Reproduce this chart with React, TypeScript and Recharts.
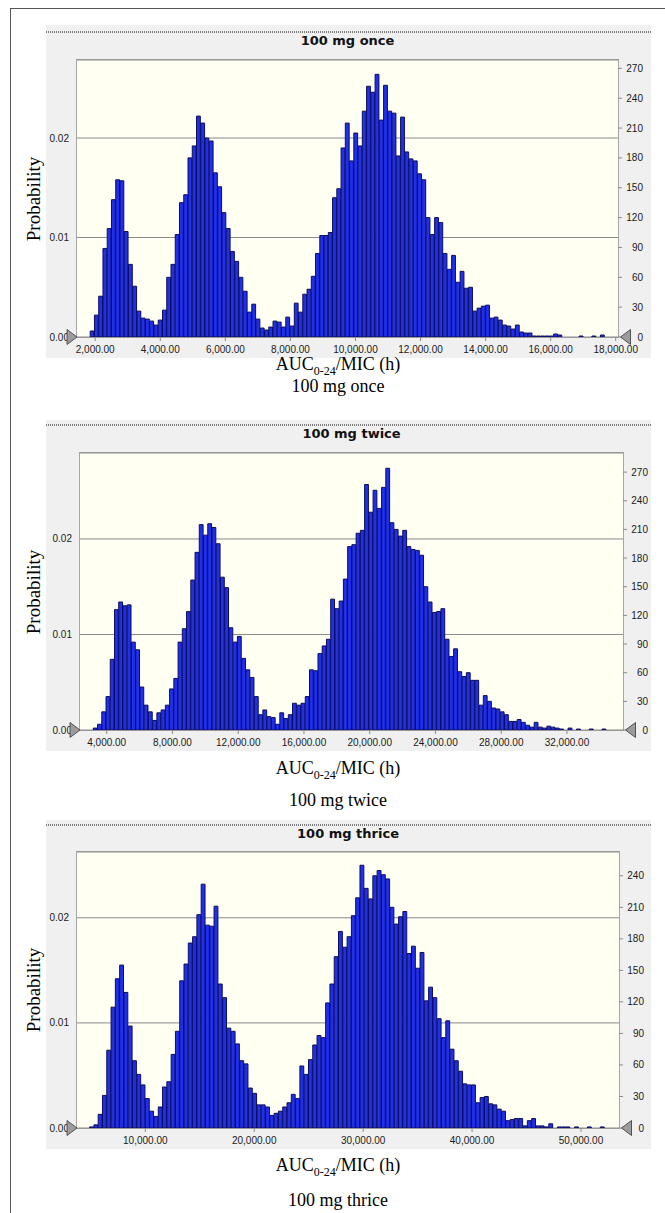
import React from 'react';
import { BarChart, Bar, XAxis, YAxis, CartesianGrid } from 'recharts';

// Bin counts (10,000 trials each)
const onceCounts = [
  6, 22, 41, 89, 109, 138, 158, 157, 106, 73,
  51, 26, 19, 18, 16, 12, 17, 27, 60, 73,
  103, 135, 143, 180, 192, 222, 215, 200, 197, 165,
  151, 125, 109, 86, 76, 60, 46, 25, 33, 18,
  9, 7, 10, 16, 15, 10, 20, 11, 34, 25,
  43, 48, 61, 84, 102, 102, 105, 140, 149, 190,
  215, 177, 205, 192, 227, 252, 246, 264, 218, 253,
  227, 225, 182, 221, 186, 179, 177, 164, 158, 120,
  103, 120, 115, 84, 68, 82, 55, 66, 49, 50,
  26, 29, 31, 32, 19, 20, 17, 12, 11, 8,
  12, 5, 4, 4, 1, 1, 1, 1, 1, 3,
  2, 0, 0, 0, 0, 1, 0, 0, 1, 0,
  2,
];

const twiceCounts = [
  2, 6, 19, 35, 74, 126, 134, 130, 131, 92,
  84, 45, 26, 19, 10, 18, 21, 26, 43, 54,
  92, 106, 124, 157, 186, 215, 204, 216, 212, 195,
  160, 149, 107, 92, 98, 75, 63, 55, 35, 16,
  21, 14, 13, 6, 18, 12, 16, 28, 26, 28,
  35, 63, 62, 80, 88, 95, 137, 127, 135, 158,
  192, 194, 206, 209, 257, 228, 251, 232, 254, 274,
  217, 210, 203, 209, 192, 189, 188, 183, 150, 134,
  123, 124, 127, 95, 77, 85, 61, 56, 60, 52,
  52, 26, 36, 30, 23, 22, 19, 16, 9, 9,
  11, 8, 5, 3, 8, 3, 2, 4, 3, 2,
  1, 0, 2, 0, 1, 0, 0, 1, 0, 0,
  1,
];

const thriceCounts = [
  1, 3, 13, 31, 74, 115, 142, 155, 129, 97,
  64, 51, 41, 28, 16, 11, 20, 39, 44, 70,
  92, 140, 156, 176, 182, 203, 232, 193, 192, 211,
  137, 124, 95, 92, 80, 64, 61, 38, 33, 22,
  22, 20, 12, 14, 16, 20, 24, 32, 28, 59,
  51, 65, 79, 88, 86, 119, 137, 163, 187, 172,
  182, 202, 219, 250, 228, 218, 240, 245, 241, 237,
  210, 194, 201, 206, 166, 173, 152, 167, 121, 134,
  124, 104, 86, 102, 75, 64, 54, 42, 41, 41,
  24, 29, 30, 23, 22, 18, 16, 7, 8, 9,
  9, 2, 7, 9, 2, 2, 1, 4, 0, 1,
  1, 1, 0, 1, 0, 0, 1, 0, 0, 1,
];

// first bin edge and bin width (AUC/MIC units)
const onceBins = { start: 1846, width: 130.7 };
const twiceBins = { start: 3184, width: 257.9 };
const thriceBins = { start: 4886, width: 394 };

const onceDomain = [1440, 18070];
const twiceDomain = [2375, 35409];
const thriceDomain = [3729, 53489];

const onceXTicks = [2000, 4000, 6000, 8000, 10000, 12000, 14000, 16000, 18000];
const twiceXTicks = [4000, 8000, 12000, 16000, 20000, 24000, 28000, 32000];
const thriceXTicks = [10000, 20000, 30000, 40000, 50000];

const countTicks270 = [0, 30, 60, 90, 120, 150, 180, 210, 240, 270];
const countTicks240 = [0, 30, 60, 90, 120, 150, 180, 210, 240];
const probTicks = [0, 0.01, 0.02];
const TRIALS = 10000;

const panelTitles = ['100 mg once', '100 mg twice', '100 mg thrice'];

const UI_FONT = '"Liberation Sans", Arial, sans-serif';
const TITLE_FONT = '"DejaVu Sans", Tahoma, sans-serif';
const SERIF = '"Liberation Serif", "Times New Roman", serif';

const GRAY_LEFT = 46;
const GRAY_RIGHT = 651;
const LEFT_W = 40;
const RIGHT_W = 30;
const TOP_PAD = 10;
const X_AXIS_H = 22;

const fmtX = (v: number) =>
  v.toLocaleString('en-US', { minimumFractionDigits: 2, maximumFractionDigits: 2 });

const ProbTick = (props: any) => {
  const { x, y, payload } = props;
  return (
    <g>
      <text x={x} y={y} dy="0.35em" textAnchor="end" fontSize={10} fill="#1a1a1a" fontFamily={UI_FONT}>
        {Number(payload.value).toFixed(2)}
      </text>
      {payload.value === 0 && (
        <polygon
          points={`${x - 2},${y - 7.5} ${x - 2},${y + 7.5} ${x + 8},${y}`}
          fill="#9c9c9c"
          stroke="#454545"
          strokeWidth={0.9}
        />
      )}
    </g>
  );
};

const CountTick = (props: any) => {
  const { x, y, payload } = props;
  return (
    <g>
      <text x={x + 19} y={y} dy="0.35em" textAnchor="end" fontSize={10} fill="#1a1a1a" fontFamily={UI_FONT}>
        {payload.value}
      </text>
      {payload.value === 0 && (
        <polygon
          points={`${x - 3.5},${y} ${x + 6.5},${y - 7.5} ${x + 6.5},${y + 7.5}`}
          fill="#9c9c9c"
          stroke="#454545"
          strokeWidth={0.9}
        />
      )}
    </g>
  );
};

type Layout = {
  plot: { left: number; top: number; width: number; height: number };
  grayTop: number;
  dotted: number;
  axisTitleTop: number;
  captionTop: number;
};

type PanelProps = {
  title: string;
  counts: number[];
  bins: { start: number; width: number };
  xDomain: number[];
  xTicks: number[];
  countTop: number;
  countTicks: number[];
  layout: Layout;
};

function Panel({ title, counts, bins, xDomain, xTicks, countTop, countTicks, layout }: PanelProps) {
  const data = counts.map((count, i) => ({ x: bins.start + (i + 0.5) * bins.width, count }));
  const { plot } = layout;
  const barSize = (bins.width / (xDomain[1] - xDomain[0])) * plot.width;
  const plotBottom = plot.top + plot.height;
  const centerX = plot.left + plot.width / 2;

  return (
    <>
      {/* grey window of the simulation software */}
      <div
        style={{
          position: 'absolute',
          left: GRAY_LEFT,
          top: layout.grayTop,
          width: GRAY_RIGHT - GRAY_LEFT,
          height: plotBottom + 21 - layout.grayTop,
          background: '#f0f0f0',
        }}
      />
      <div
        style={{
          position: 'absolute',
          left: GRAY_LEFT,
          top: layout.dotted,
          width: GRAY_RIGHT - GRAY_LEFT,
          height: 2,
          backgroundImage: 'repeating-linear-gradient(90deg, #7a7a7a 0 1px, transparent 1px 2px)',
        }}
      />
      <div
        style={{
          position: 'absolute',
          left: centerX,
          top: layout.dotted + 2,
          transform: 'translateX(-50%)',
          whiteSpace: 'nowrap',
          fontFamily: TITLE_FONT,
          fontWeight: 'bold',
          fontSize: 13,
          lineHeight: '16px',
          color: '#111',
        }}
      >
        {title}
      </div>
      {/* plot background and frame */}
      <div
        style={{
          position: 'absolute',
          left: plot.left - 1,
          top: plot.top - 1,
          width: plot.width,
          height: plot.height,
          background: '#fffff2',
          border: '1px solid #a6a6a6',
        }}
      />
      <div style={{ position: 'absolute', left: plot.left - LEFT_W, top: plot.top - TOP_PAD }}>
        <BarChart
          width={LEFT_W + plot.width + RIGHT_W}
          height={TOP_PAD + plot.height + X_AXIS_H}
          data={data}
          margin={{ top: TOP_PAD, right: 0, bottom: 0, left: 0 }}
          barCategoryGap={0}
          barGap={0}
        >
          <CartesianGrid yAxisId="p" vertical={false} stroke="#8a8a8a" />
          <XAxis
            type="number"
            dataKey="x"
            domain={xDomain}
            allowDataOverflow
            ticks={xTicks}
            interval={0}
            height={X_AXIS_H}
            axisLine={false}
            tickSize={4}
            tickMargin={5}
            tickLine={{ stroke: '#8a8a8a' }}
            tick={{ fontSize: 10, fill: '#1a1a1a', fontFamily: UI_FONT }}
            tickFormatter={fmtX}
          />
          <YAxis
            yAxisId="p"
            orientation="left"
            type="number"
            width={LEFT_W}
            domain={[0, countTop / TRIALS]}
            allowDataOverflow
            ticks={probTicks}
            interval={0}
            axisLine={false}
            tickLine={false}
            tickSize={0}
            tickMargin={8}
            tick={<ProbTick />}
          />
          <YAxis
            yAxisId="c"
            orientation="right"
            type="number"
            width={RIGHT_W}
            domain={[0, countTop]}
            allowDataOverflow
            ticks={countTicks}
            interval={0}
            axisLine={false}
            tickSize={4}
            tickMargin={2}
            tickLine={{ stroke: '#8a8a8a' }}
            tick={<CountTick />}
          />
          <Bar
            yAxisId="c"
            dataKey="count"
            barSize={barSize}
            fill="#1f2ff0"
            stroke="#0e0e55"
            strokeWidth={1}
            isAnimationActive={false}
          />
        </BarChart>
      </div>
      <div
        style={{
          position: 'absolute',
          left: 34,
          top: plot.top + plot.height / 2,
          transform: 'translate(-50%, -50%) rotate(-90deg)',
          whiteSpace: 'nowrap',
          fontFamily: SERIF,
          fontSize: 19,
          lineHeight: '20px',
          color: '#000',
        }}
      >
        Probability
      </div>
      <div
        style={{
          position: 'absolute',
          left: 338,
          top: layout.axisTitleTop,
          transform: 'translateX(-50%)',
          whiteSpace: 'nowrap',
          fontFamily: SERIF,
          fontSize: 18,
          lineHeight: '20px',
          color: '#000',
        }}
      >
        AUC<span style={{ fontSize: 12, verticalAlign: -5 }}>0-24</span>/MIC (h)
      </div>
      <div
        style={{
          position: 'absolute',
          left: 338,
          top: layout.captionTop,
          transform: 'translateX(-50%)',
          whiteSpace: 'nowrap',
          fontFamily: SERIF,
          fontSize: 18,
          lineHeight: '20px',
          color: '#000',
        }}
      >
        {title}
      </div>
    </>
  );
}

const layouts: Layout[] = [
  { plot: { left: 77, top: 60, width: 541, height: 277 }, grayTop: 25, dotted: 31, axisTitleTop: 354, captionTop: 376 },
  { plot: { left: 80, top: 453, width: 543, height: 277 }, grayTop: 420, dotted: 424, axisTitleTop: 758, captionTop: 790 },
  { plot: { left: 77, top: 852, width: 542, height: 276 }, grayTop: 820, dotted: 824, axisTitleTop: 1155, captionTop: 1190 },
];

export default function App() {
  return (
    <div
      style={{
        position: 'absolute',
        left: 0,
        top: 0,
        width: 665,
        height: 1213,
        overflow: 'hidden',
        background: '#fff',
      }}
    >
      <div
        style={{
          position: 'absolute',
          left: 10,
          top: 8,
          width: 700,
          height: 1300,
          border: '1px solid #555',
        }}
      />
      <Panel
        title={panelTitles[0]}
        counts={onceCounts}
        bins={onceBins}
        xDomain={onceDomain}
        xTicks={onceXTicks}
        countTop={278.4}
        countTicks={countTicks270}
        layout={layouts[0]}
      />
      <Panel
        title={panelTitles[1]}
        counts={twiceCounts}
        bins={twiceBins}
        xDomain={twiceDomain}
        xTicks={twiceXTicks}
        countTop={290}
        countTicks={countTicks270}
        layout={layouts[1]}
      />
      <Panel
        title={panelTitles[2]}
        counts={thriceCounts}
        bins={thriceBins}
        xDomain={thriceDomain}
        xTicks={thriceXTicks}
        countTop={262.6}
        countTicks={countTicks240}
        layout={layouts[2]}
      />
    </div>
  );
}
